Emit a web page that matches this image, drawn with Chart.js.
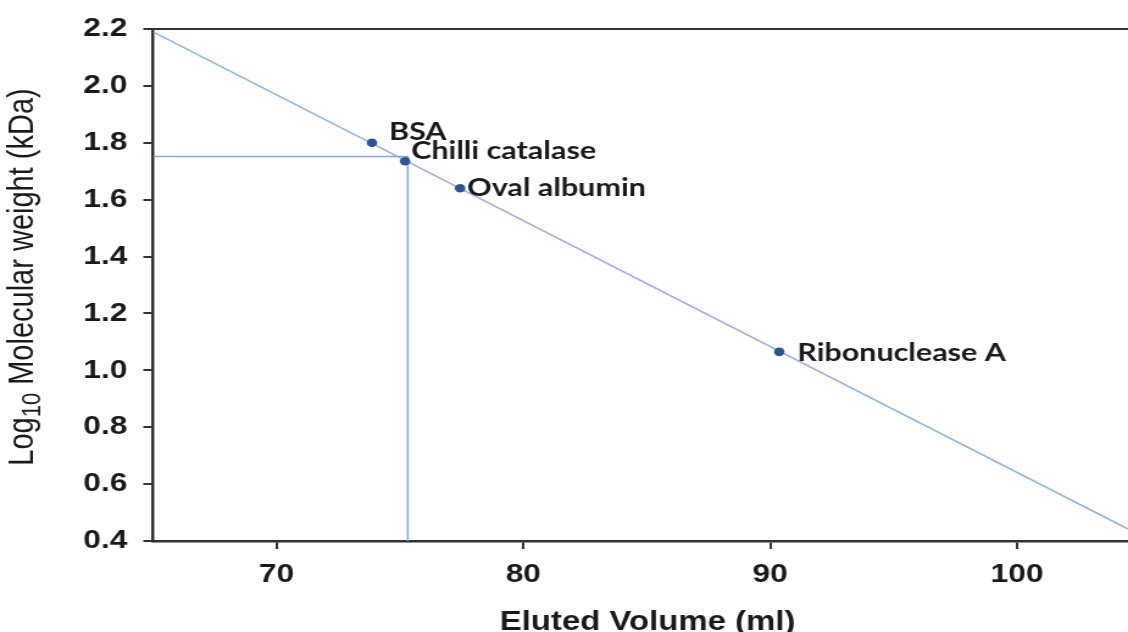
<!DOCTYPE html>
<html>
<head>
<meta charset="utf-8">
<script src="https://cdn.jsdelivr.net/npm/chart.js@4.4.1/dist/chart.umd.min.js"></script>
<style>
  html, body { margin: 0; padding: 0; background: #ffffff; overflow: hidden; }
  #wrap {
    position: absolute; left: 0; top: 0;
    width: 925px; height: 632px;
    transform: scaleX(1.2195); transform-origin: 0 0;
  }
  #chart { display: block; }
</style>
</head>
<body>
<div id="wrap"><canvas id="chart" width="925" height="632"></canvas></div>
<script>
// Gel-filtration calibration: marker proteins, fitted line and the sample read-off
const proteins     = ['BSA', 'Chilli catalase', 'Oval albumin', 'Ribonuclease A'];
const elutedVolume = [73.87, 75.21, 77.44, 90.37];
const logMw        = [1.80, 1.735, 1.64, 1.065];

// regression line end points
const fitVolume = [65, 104.5];
const fitLogMw  = [2.19, 0.442];

// read-off of the sample (elution volume -> log MW)
const sampleVolume = 75.32;
const sampleLogMw  = 1.752;

const xTicks = [70, 80, 90, 100];
const yTicks = [0.4, 0.6, 0.8, 1.0, 1.2, 1.4, 1.6, 1.8, 2.0, 2.2];

const X_MIN = 65, X_MAX = 104.5, Y_MIN = 0.4, Y_MAX = 2.2;

// label placement next to each marker: [dx, baseline dy] in px
const labelOffset = [[14, -2.5], [5, -2.5], [5.7, 7.5], [14.8, 9]];

const AXIS = '#333333';
const TEXT = '#1a1a1a';

const pointLabels = {
  id: 'pointLabels',
  afterDatasetsDraw(chart) {
    const meta = chart.getDatasetMeta(2);
    const ctx = chart.ctx;
    ctx.save();
    ctx.font = 'bold 25px Lato';
    ctx.fillStyle = TEXT;
    ctx.textAlign = 'left';
    ctx.textBaseline = 'alphabetic';
    meta.data.forEach((el, i) => {
      const [dx, dy] = labelOffset[i];
      ctx.fillText(proteins[i], el.x + dx, el.y + dy);
    });
    ctx.restore();
  }
};

const frameAndTitles = {
  id: 'frameAndTitles',
  afterDraw(chart) {
    const { ctx, chartArea } = chart;
    ctx.save();
    // top frame line
    ctx.strokeStyle = AXIS;
    ctx.lineWidth = 2.2;
    ctx.beginPath();
    ctx.moveTo(chartArea.left, chartArea.top);
    ctx.lineTo(chartArea.right, chartArea.top);
    ctx.stroke();

    // x axis title
    ctx.fillStyle = TEXT;
    ctx.font = 'bold 27px "Liberation Sans"';
    ctx.textAlign = 'center';
    ctx.textBaseline = 'alphabetic';
    ctx.fillText('Eluted Volume (ml)', 531, 630);

    // y axis title with subscript
    const main = '29px "Liberation Sans"';
    const sub = '22px "Liberation Sans"';
    const parts = [
      { t: 'Log', f: main, dy: 0 },
      { t: '10', f: sub, dy: 6 },
      { t: ' Molecular weight (kDa)', f: main, dy: 0 }
    ];
    let total = 0;
    parts.forEach(p => { ctx.font = p.f; p.w = ctx.measureText(p.t).width; total += p.w; });
    ctx.translate(27, 277);
    ctx.rotate(-Math.PI / 2);
    ctx.textAlign = 'left';
    let x = -total / 2;
    parts.forEach(p => {
      ctx.font = p.f;
      ctx.fillText(p.t, x, p.dy);
      x += p.w;
    });
    ctx.restore();
  }
};

const toPoints = (xs, ys) => xs.map((x, i) => ({ x, y: ys[i] }));

new Chart(document.getElementById('chart'), {
  type: 'scatter',
  data: {
    datasets: [
      {
        type: 'line',
        data: toPoints(fitVolume, fitLogMw),
        borderColor: '#9db3da',
        borderWidth: 1.6,
        pointRadius: 0,
        fill: false,
        order: 3
      },
      {
        type: 'line',
        data: [
          { x: X_MIN, y: sampleLogMw },
          { x: sampleVolume, y: sampleLogMw },
          { x: sampleVolume, y: Y_MIN }
        ],
        borderColor: '#8fa9d5',
        borderWidth: 1.6,
        pointRadius: 0,
        fill: false,
        order: 2
      },
      {
        data: toPoints(elutedVolume, logMw),
        backgroundColor: '#2f5390',
        borderColor: '#2f5390',
        borderWidth: 0,
        pointRadius: 4.3,
        order: 1
      }
    ]
  },
  options: {
    responsive: false,
    devicePixelRatio: 1,
    animation: false,
    layout: { autoPadding: false, padding: { top: 29, right: 0, bottom: 0, left: 0 } },
    plugins: { legend: { display: false }, tooltip: { enabled: false } },
    scales: {
      x: {
        type: 'linear',
        min: X_MIN,
        max: X_MAX,
        afterBuildTicks: s => { s.ticks = xTicks.map(v => ({ value: v })); },
        afterFit: s => { s.height = 91; s.paddingLeft = 0; s.paddingRight = 0; },
        border: { display: true, color: AXIS, width: 2.5 },
        grid: { drawOnChartArea: false, drawTicks: true, tickLength: 8, color: AXIS, lineWidth: 2 },
        ticks: {
          font: { family: '"Liberation Sans"', weight: 'bold', size: 26 },
          color: TEXT,
          padding: 10,
          maxRotation: 0,
          callback: v => String(v)
        }
      },
      y: {
        type: 'linear',
        min: Y_MIN,
        max: Y_MAX,
        afterBuildTicks: s => { s.ticks = yTicks.map(v => ({ value: v })); },
        afterFit: s => { s.width = 125.5; s.paddingTop = 0; s.paddingBottom = 0; },
        border: { display: true, color: AXIS, width: 2.5 },
        grid: { drawOnChartArea: false, drawTicks: true, tickLength: 8, color: AXIS, lineWidth: 2 },
        ticks: {
          font: { family: '"Liberation Sans"', weight: 'bold', size: 26 },
          color: TEXT,
          padding: 13,
          callback: v => Number(v).toFixed(1)
        }
      }
    }
  },
  plugins: [pointLabels, frameAndTitles]
});
</script>
</body>
</html>
